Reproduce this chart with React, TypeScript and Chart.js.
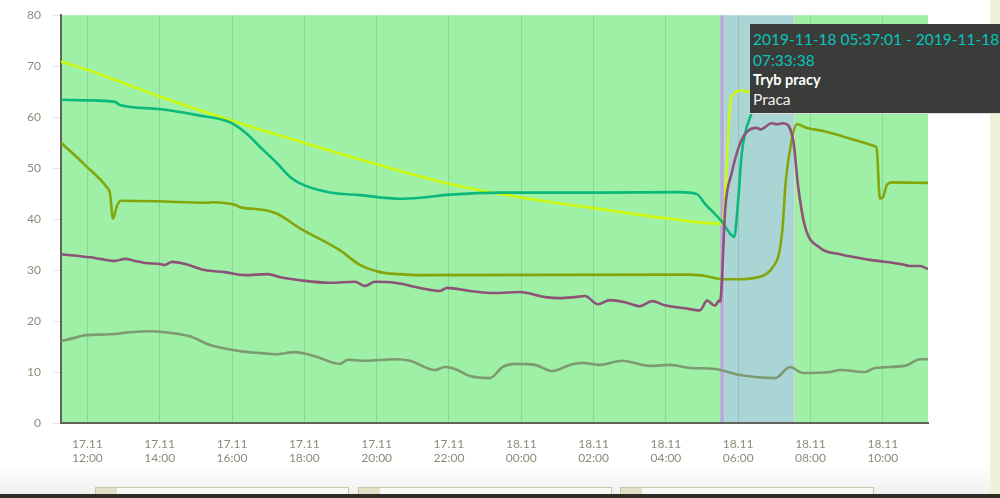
import React, { useEffect, useRef } from "react";
import { Chart, registerables } from "chart.js";

Chart.register(...registerables);

// Hours are measured from 17.11 12:00
const xMin = -0.73;
const xMax = 23.25;
const tickHours = [0, 2, 4, 6, 8, 10, 12, 14, 16, 18, 20, 22];
const tickLabels = [
  ["17.11", "12:00"], ["17.11", "14:00"], ["17.11", "16:00"], ["17.11", "18:00"],
  ["17.11", "20:00"], ["17.11", "22:00"], ["18.11", "00:00"], ["18.11", "02:00"],
  ["18.11", "04:00"], ["18.11", "06:00"], ["18.11", "08:00"], ["18.11", "10:00"],
];

const yellowHours = [-0.73, 0, 1.98, 4.0, 5.88, 7.98, 9.97, 11.96, 13.96, 15.97, 17.54, 17.61, 17.8, 18.1, 18.27, 18.38];
const yellowValues = [70.9, 69.3, 64.1, 59.3, 55.2, 50.8, 47, 44.3, 42.2, 40.2, 39.1, 41, 63.7, 65.2, 65, 65];

const tealHours = [-0.73, -0.01, 0.76, 0.9, 1.98, 3.11, 3.94, 4.4, 4.77, 5.24, 5.6, 5.88, 6.71, 7.54, 8.64, 9.2, 10.03, 11.41, 14.18, 16.39, 16.86, 17.08, 17.3, 17.55, 17.77, 17.89, 18.0, 18.1, 18.19, 18.37, 18.55];
const tealValues = [63.4, 63.3, 63, 62.4, 61.6, 60.3, 59, 56.8, 54.2, 51, 48.3, 47, 45.2, 44.7, 44, 44.2, 44.8, 45.2, 45.2, 45.3, 44.9, 43, 41.4, 39.5, 37.2, 36.5, 43.7, 52.9, 56.8, 60.8, 65];

const oliveHours = [-0.73, -0.02, 0.53, 0.62, 0.71, 0.81, 0.92, 1.91, 3.3, 3.47, 4.08, 4.24, 4.77, 5.23, 5.88, 6.98, 7.54, 8.09, 8.64, 9.2, 16.67, 17.13, 17.54, 17.96, 18.69, 18.96, 19.13, 19.23, 19.31, 19.48, 19.62, 19.93, 20.35, 20.72, 21.28, 21.78, 21.83, 21.92, 22.01, 22.12, 22.25, 23.25];
const oliveValues = [55, 50.3, 46.3, 45.2, 40.1, 42.4, 43.6, 43.5, 43.2, 43.3, 42.8, 42.3, 41.9, 41.1, 38.2, 33.9, 31, 29.6, 29.2, 29, 29.1, 28.8, 28.2, 28.2, 28.9, 30.6, 33.3, 38.5, 47, 55.5, 58.6, 57.8, 57.3, 56.6, 55.4, 54.3, 53.9, 44, 44.4, 46.8, 47.2, 47.1];

const purpleHours = [-0.73, 0.07, 0.35, 0.76, 1.04, 1.31, 1.59, 2.01, 2.14, 2.34, 2.7, 3.25, 3.8, 4.36, 4.99, 5.33, 5.88, 6.71, 7.4, 7.68, 7.95, 8.51, 9.2, 9.75, 9.95, 10.58, 11.27, 11.96, 12.66, 13.07, 13.49, 13.76, 14.12, 14.45, 14.87, 15.28, 15.62, 15.97, 16.53, 16.94, 17.14, 17.36, 17.47, 17.5, 17.54, 17.64, 17.82, 18.05, 18.24, 18.51, 18.62, 18.93, 19.07, 19.25, 19.52, 19.66, 19.85, 20.26, 20.82, 21.65, 22.48, 22.75, 23.03, 23.25];
const purpleValues = [33.1, 32.5, 32.2, 31.8, 32.2, 31.8, 31.4, 31.2, 31, 31.6, 31.2, 30, 29.6, 29, 29.2, 28.6, 28, 27.5, 27.7, 26.9, 27.7, 27.5, 26.5, 25.9, 26.5, 25.9, 25.5, 25.7, 24.7, 24.5, 24.7, 24.9, 23.3, 24.1, 23.7, 22.9, 23.9, 23.1, 22.5, 22.1, 24, 23, 24, 23.8, 26.7, 41.8, 49, 54.8, 57.1, 57.9, 57.6, 58.8, 58.6, 58.8, 55.5, 46.3, 38.5, 34.4, 33.1, 32, 31.2, 30.8, 30.8, 30.2];

const greyHours = [-0.73, -0.35, -0.07, 0.62, 1.18, 1.73, 2.14, 2.84, 3.39, 4.22, 4.83, 5.19, 5.74, 6.29, 6.98, 7.21, 7.68, 8.51, 8.92, 9.61, 9.89, 10.17, 10.58, 11.13, 11.49, 11.83, 12.38, 12.85, 13.35, 13.68, 14.18, 14.79, 15.56, 16.11, 16.67, 17.36, 18.05, 19.02, 19.43, 19.79, 20.54, 20.82, 21.51, 21.78, 22.61, 23.03, 23.25];
const greyValues = [16.1, 16.7, 17.2, 17.4, 17.8, 18, 17.8, 17, 15.3, 14.1, 13.7, 13.5, 13.9, 13.1, 11.6, 12.4, 12.2, 12.5, 12.2, 10.4, 11, 10.6, 9.2, 8.8, 11, 11.6, 11.4, 10.2, 11.4, 11.8, 11.4, 12.2, 11.2, 11.4, 10.8, 10.6, 9.4, 8.8, 11, 9.8, 10, 10.4, 10, 10.8, 11.2, 12.5, 12.5];

const bandStarts = [xMin, 17.5, 17.617, 19.56, 19.63];
const bandEnds = [17.5, 17.617, 19.56, 19.63, xMax];
const bandColors = ["#9df0a5", "#b4aed6", "#a9d5d5", "#ade99c", "#9df0a5"];

const tooltipRange = "2019-11-18 05:37:01 - 2019-11-18 07:33:38";
const tooltipTitle = "Tryb pracy";
const tooltipValue = "Praca";

const pairs = (xs: number[], ys: number[]) => xs.map((x, i) => ({ x, y: ys[i] }));

const bandsPlugin = {
  id: "bands",
  beforeDraw(chart: any) {
    const { ctx, chartArea, scales } = chart;
    ctx.save();
    bandStarts.forEach((s, i) => {
      const a = scales.x.getPixelForValue(s);
      const b = scales.x.getPixelForValue(bandEnds[i]);
      ctx.fillStyle = bandColors[i];
      ctx.fillRect(a, chartArea.top, b - a, chartArea.bottom - chartArea.top);
    });
    ctx.restore();
  },
};

const boxes = [95, 358, 620];

export default function App() {
  const ref = useRef<HTMLCanvasElement>(null);
  useEffect(() => {
    const line = (xs: number[], ys: number[], color: string, width = 2.6) => ({
      data: pairs(xs, ys),
      borderColor: color,
      borderWidth: width,
      pointRadius: 0,
      cubicInterpolationMode: "monotone",
      fill: false,
    });
    const chart = new Chart(ref.current!, {
      type: "line",
      data: {
        datasets: [
          line(greyHours, greyValues, "#7d9a72"),
          line(purpleHours, purpleValues, "#8d5278"),
          line(oliveHours, oliveValues, "#84a60c"),
          line(tealHours, tealValues, "#0cb97c"),
          line(yellowHours, yellowValues, "#ccf90f"),
        ],
      },
      options: {
        animation: false,
        responsive: false,
        devicePixelRatio: 1,
        layout: { padding: { top: 11, right: 72, left: 0, bottom: 0 } },
        plugins: { legend: { display: false }, tooltip: { enabled: false } },
        scales: {
          x: {
            type: "linear",
            min: xMin,
            max: xMax,
            afterBuildTicks: (axis: any) => {
              axis.ticks = tickHours.map((value) => ({ value }));
            },
            afterFit: (axis: any) => {
              axis.height = 75;
            },
            grid: { color: "rgba(70,110,80,0.2)", lineWidth: 1, drawTicks: false },
            border: { color: "#62625c", width: 2 },
            ticks: {
              autoSkip: false,
              maxRotation: 0,
              padding: 14,
              color: "#8f8a78",
              font: { family: "Lato", size: 12 },
              callback: (v: any) => tickLabels[tickHours.indexOf(Number(v))],
            },
          },
          y: {
            min: 0,
            max: 80,
            afterFit: (axis: any) => {
              axis.width = 61;
            },
            afterBuildTicks: (axis: any) => {
              axis.ticks = [0, 10, 20, 30, 40, 50, 60, 70, 80].map((value) => ({ value }));
            },
            grid: { drawOnChartArea: false, color: "#e4e4e0", tickLength: 8 },
            border: { color: "#62625c", width: 2 },
            ticks: {
              padding: 12,
              color: "#8f8a78",
              font: { family: "Lato", size: 12 },
            },
          },
        },
      },
      plugins: [bandsPlugin],
    } as any);
    return () => chart.destroy();
  }, []);

  return (
    <div style={{ position: "fixed", inset: 0, overflow: "hidden", background: "#fff", fontFamily: "Lato" }}>
      <div style={{ position: "absolute", left: 0, right: 0, top: 465, height: 33, background: "linear-gradient(#ffffff, #eeeeee)" }} />
      <div style={{ position: "absolute", left: 990, top: 0, width: 10, height: 498, background: "#eef2da" }} />
      {boxes.map((x) => (
        <div key={x} style={{ position: "absolute", left: x, top: 487, width: 254, height: 11, background: "#f8f8f5", border: "1px solid #c9c5aa", boxSizing: "border-box" }}>
          <div style={{ width: 21, height: "100%", background: "#e3dfc6" }} />
        </div>
      ))}
      <div style={{ position: "absolute", left: 0, right: 0, top: 494, height: 4, background: "#2e2c27" }} />
      <canvas ref={ref} width={1000} height={502} style={{ position: "absolute", left: 0, top: -4, filter: "blur(0.35px)" }} />
      <div style={{ position: "absolute", left: 750, top: 24, width: 250, height: 90, boxSizing: "border-box", background: "#3a3c39", padding: "5px 0 0 3px", borderBottom: "1px solid #ddd" }}>
        <div style={{ color: "#08c4bc", fontSize: 15.5, lineHeight: "21px" }}>{tooltipRange}</div>
        <div style={{ color: "#fff", fontSize: 14.5, fontWeight: 700, lineHeight: "18px" }}>{tooltipTitle}</div>
        <div style={{ color: "#f0f0f0", fontSize: 15.5, lineHeight: "21px" }}>{tooltipValue}</div>
      </div>
    </div>
  );
}
